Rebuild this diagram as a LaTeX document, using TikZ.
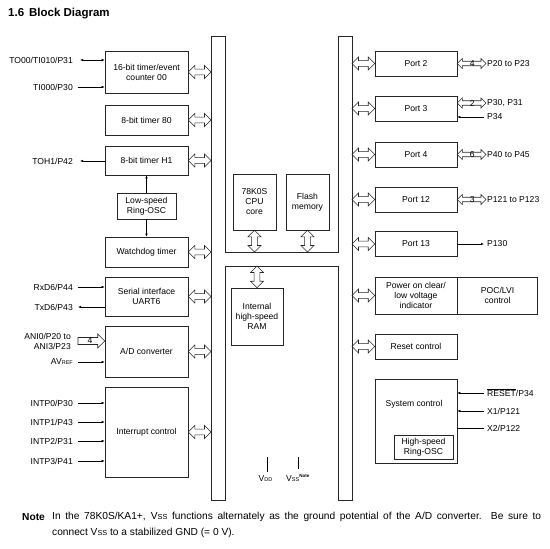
\documentclass[tikz,border=0pt]{standalone}
\usepackage{fontspec}
\setmainfont{Liberation Sans}
\usetikzlibrary{arrows.meta,calc}
\newcommand\dfont{\fontsize{8.6}{10}\selectfont}
\newcommand\nfont{\fontsize{10.2}{12}\selectfont}
\newcommand\VssTxt{V{\fontsize{7.3}{8}\selectfont SS}}
% hohler Doppelpfeil, waagrecht (links -> rechts)
\newcommand\hdbl[3][6.5]{%
  \draw[bus] let \p1=#2, \p2=#3 in
    (\x1,\y1) -- (\x1+#1pt,\y1+#1pt) -- (\x1+#1pt,\y1+.45*#1pt)
    -- (\x2-#1pt,\y1+.45*#1pt) -- (\x2-#1pt,\y1+#1pt) -- (\x2,\y1)
    -- (\x2-#1pt,\y1-#1pt) -- (\x2-#1pt,\y1-.45*#1pt)
    -- (\x1+#1pt,\y1-.45*#1pt) -- (\x1+#1pt,\y1-#1pt) -- cycle}
% hohler Doppelpfeil, senkrecht (oben -> unten)
\newcommand\vdbl[3][6.5]{%
  \draw[bus] let \p1=#2, \p2=#3 in
    (\x1,\y1) -- (\x1+#1pt,\y1-#1pt) -- (\x1+.45*#1pt,\y1-#1pt)
    -- (\x1+.45*#1pt,\y2+#1pt) -- (\x1+#1pt,\y2+#1pt) -- (\x1,\y2)
    -- (\x1-#1pt,\y2+#1pt) -- (\x1-.45*#1pt,\y2+#1pt)
    -- (\x1-.45*#1pt,\y1-#1pt) -- (\x1-#1pt,\y1-#1pt) -- cycle}
\begin{document}
\begin{tikzpicture}[x=1pt,y=-1pt,>={Latex[length=3pt,width=2.4pt]},
  blk/.style={draw=black!85,line width=0.6pt,align=center,inner sep=0pt,font=\dfont},
  lbl/.style={inner sep=0pt,font=\dfont},
  bus/.style={draw=black!85,line width=0.6pt},
  sig/.style={line width=0.5pt}]
\useasboundingbox (0,0) rectangle (550,549);
% Titel
\node[anchor=west,inner sep=0pt,font=\fontsize{11.5}{13}\selectfont\bfseries] (title) at (8,14) {1.6\hspace{5pt}Block Diagram};
% interner Bus (H-Form)
\draw[bus] (211,36) -- (225,36) -- (225,252) -- (338,252) -- (338,36) -- (352,36)
  -- (352,500) -- (338,500) -- (338,266) -- (225,266) -- (225,500) -- (211,500) -- cycle;
\coordinate (busL)  at (211,0);
\coordinate (busR)  at (352,0);
\coordinate (bandT) at (0,252);
\coordinate (bandB) at (0,266);
% Bloecke links
\node[blk,minimum width=83pt,minimum height=42pt] (t16)  at (146.5,72)    {16-bit timer/event\\counter 00};
\node[blk,minimum width=83pt,minimum height=30pt] (t80)  at (146.5,120)   {8-bit timer 80};
\node[blk,minimum width=83pt,minimum height=29pt] (th1)  at (146.5,160.5) {8-bit timer H1};
\node[blk,minimum width=59pt,minimum height=26pt] (lro)  at (146.5,206)   {Low-speed\\Ring-OSC};
\node[blk,minimum width=83pt,minimum height=30pt] (wdt)  at (146.5,252)   {Watchdog timer};
\node[blk,minimum width=83pt,minimum height=39pt] (uart) at (146.5,296.5) {Serial interface\\UART6};
\node[blk,minimum width=83pt,minimum height=51pt] (adc)  at (146.5,351.5) {A/D converter};
\node[blk,minimum width=83pt,minimum height=90pt] (intc) at (146.5,432)   {Interrupt control};
% CPU, Flash, RAM
\node[blk,minimum width=43pt,minimum height=56pt] (cpu)   at (254.5,202) {78K0S\\CPU\\core};
\node[blk,minimum width=43pt,minimum height=56pt] (flash) at (307.5,202) {Flash\\memory};
\node[blk,minimum width=52pt,minimum height=57pt] (ram)   at (257,316.5) {Internal\\high-speed\\RAM};
% Bloecke rechts
\foreach \n/\t/\y in {p2/Port 2/63.5,p3/Port 3/108.5,p4/Port 4/154.5,p12/Port 12/199.5,p13/Port 13/244}
  \node[blk,minimum width=82pt,minimum height=25pt] (\n) at (416,\y) {\t};
\node[blk,minimum width=82pt,minimum height=37pt] (poc) at (416,295.5) {Power on clear/\\low voltage\\indicator};
\node[blk,minimum width=80pt,minimum height=37pt,anchor=west] (lvi) at (poc.east) {POC/LVI\\control};
\node[blk,minimum width=82pt,minimum height=25pt] (rst) at (416,346.5) {Reset control};
\node[blk,minimum width=82pt,minimum height=84pt] (sysc) at (416,421) {};
\node[lbl] (syst) at (414,404) {System control};
\node[blk,minimum width=59pt,minimum height=24pt] (hro) at (423.5,447) {High-speed\\Ring-OSC};
% Busanschluesse
\foreach \b in {t16,t80,th1,wdt,uart,adc,intc} \hdbl{(\b.east)}{(\b.east -| busL)};
\foreach \b in {p2,p3,p4,p12,p13,poc,rst} \hdbl{(\b.west -| busR)}{(\b.west)};
\vdbl{(cpu.south)}{(cpu.south |- bandT)};
\vdbl{(flash.south)}{(flash.south |- bandT)};
\vdbl{(ram.north |- bandB)}{(ram.north)};
% Signale links
\node[lbl,anchor=east] (ti1) at (73,60)  {TO00/TI010/P31};
\node[lbl,anchor=east] (ti0) at (73,87)  {TI000/P30};
\node[lbl,anchor=east] (toh) at (73,161) {TOH1/P42};
\node[lbl,anchor=east] (rxd) at (73,287) {RxD6/P44};
\node[lbl,anchor=east] (txd) at (73,307) {TxD6/P43};
\node[lbl,anchor=east,align=right] (ani) at (71,341) {ANI0/P20 to\\ANI3/P23};
\node[lbl,anchor=east] (avr) at (73,362) {AV{\fontsize{5.5}{6}\selectfont REF}};
\foreach \i/\p/\y in {0/30/403,1/43/422,2/31/441,3/41/461}
  \node[lbl,anchor=east] (int\i) at (73,\y) {INTP\i/P\p};
\draw[sig,<->] ([xshift=7pt]ti1.east) -- (ti1.east -| t16.west);
\draw[sig,->]  ([xshift=5pt]ti0.east) -- (ti0.east -| t16.west);
\draw[sig,<-]  ([xshift=7pt]toh.east) -- (toh.east -| th1.west);
\draw[sig,->]  (lro.north) -- (th1.south);
\draw[sig,->]  (lro.south) -- (wdt.north);
\draw[sig,->]  ([xshift=5pt]rxd.east) -- (rxd.east -| uart.west);
\draw[sig,<-]  ([xshift=5pt]txd.east) -- (txd.east -| uart.west);
\draw[sig,->]  ([xshift=5pt]avr.east) -- (avr.east -| adc.west);
\foreach \i in {0,...,3} \draw[sig,->] ([xshift=5pt]int\i.east) -- (int\i.east -| intc.west);
% ANI-Eingang (4 Leitungen)
\draw[bus] let \p1=([xshift=7pt]ani.east), \p2=(ani.east -| adc.west) in
  (\x1,\y1+3.5pt) -- (\x2-7pt,\y1+3.5pt) -- (\x2-7pt,\y1+7pt) -- (\x2,\y1)
  -- (\x2-7pt,\y1-7pt) -- (\x2-7pt,\y1-3.5pt) -- (\x1,\y1-3.5pt) -- cycle;
\node[lbl] (ani4) at ($(ani.east)+(19,0)$) {4};
% Signale rechts
\node[lbl,anchor=west] (p2o)  at (487,63.5)  {P20 to P23};
\node[lbl,anchor=west] (p3o)  at (487,103)   {P30, P31};
\node[lbl,anchor=west] (p34)  at (487,117)   {P34};
\node[lbl,anchor=west] (p4o)  at (487,154.5) {P40 to P45};
\node[lbl,anchor=west] (p12o) at (487,199.5) {P121 to P123};
\node[lbl,anchor=west] (p13o) at (487,244)   {P130};
\foreach \a/\b/\k in {p2/p2o/4,p3/p3o/2,p4/p4o/6,p12/p12o/3} {
  \hdbl[5]{(\b.west -| \a.east)}{([xshift=-1pt]\b.west)};
  \node[lbl] (\a n) at ($(\b.west -| \a.east)!0.5!(\b.west)$) {\k};
}
\draw[sig,<-] (p34.west -| p3.east) -- ([xshift=-3pt]p34.west);
\draw[sig,->] (p13o.west -| p13.east) -- ([xshift=-3pt]p13o.west);
\node[lbl,anchor=west] (rsp) at (487,393) {$\overline{\mbox{RESET}}$/P34};
\node[lbl,anchor=west] (x1)  at (487,411) {X1/P121};
\node[lbl,anchor=west] (x2)  at (487,428) {X2/P122};
\draw[sig,<-] (rsp.west -| sysc.east) -- ([xshift=-3pt]rsp.west);
\draw[sig,<-] (x1.west -| sysc.east) -- ([xshift=-3pt]x1.west);
\draw[sig]    (x2.west -| sysc.east) -- ([xshift=-3pt]x2.west);
% Versorgung
\node[lbl] (vdd) at (265.5,479) {V{\fontsize{5.5}{6}\selectfont DD}};
\node[lbl,anchor=west] (vss) at (286,478) {V{\fontsize{5.5}{6}\selectfont SS}\textsuperscript{\fontsize{4.5}{5}\selectfont\bfseries Note}};
\coordinate (vddT) at (267,457);
\coordinate (vssT) at (298,457);
\draw[sig] (vddT) -- ([yshift=4pt]vddT |- vdd.north);
\draw[sig] (vssT) -- ([yshift=5pt]vssT |- vss.north);
% Anmerkung
\node[anchor=west,inner sep=0pt,font=\nfont\bfseries] (noteh) at (22,517) {Note};
\node[anchor=west,inner sep=0pt,font=\nfont] (note1) at (52,517)
  {\makebox[489pt][s]{In the 78K0S/KA1+, \VssTxt{} functions alternately as the ground potential of the A/D converter.\ \ Be sure to}};
\node[anchor=west,inner sep=0pt,font=\nfont] (note2) at (52,533)
  {connect \VssTxt{} to a stabilized GND (= 0 V).};
\end{tikzpicture}
\end{document}
